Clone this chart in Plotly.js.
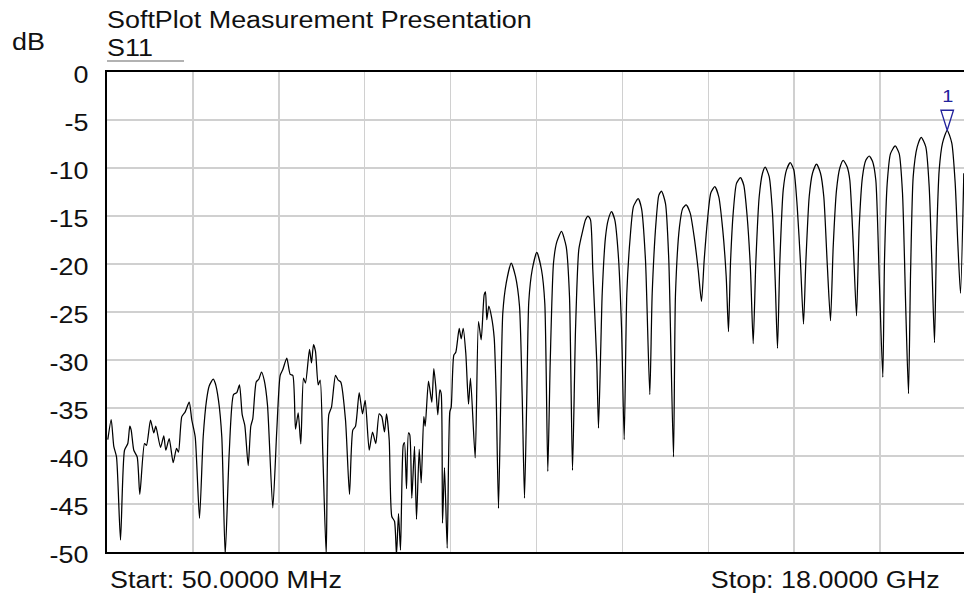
<!DOCTYPE html>
<html>
<head>
<meta charset="utf-8">
<script src="https://cdn.plot.ly/plotly-3.0.1.min.js"></script>
<style>
  html, body { margin: 0; padding: 0; background: #fff; overflow: hidden; }
  #chart { width: 966px; height: 598px; }
</style>
</head>
<body>
<div id="chart"></div>
<script>
// Frequency (GHz) and S11 (dB)
const freqGHz = [
  0.0667,0.1378,0.1921,0.2485,0.3321,0.4157,0.4847,0.5264,0.5557,0.6100,
  0.6811,0.7354,0.8336,0.8754,0.9590,1.0280,1.0697,1.1680,1.2369,1.2787,
  1.3498,1.4333,1.5023,1.5441,1.6130,1.6841,1.7677,1.8220,1.8931,1.9829,
  2.0602,2.1292,2.1856,2.2692,2.3110,2.3799,2.4489,2.5200,2.6035,2.6934,
  2.7623,2.8188,2.8752,2.9295,3.0006,3.0549,3.0967,3.1677,3.2221,3.2785,
  3.3349,3.4039,3.5146,3.5982,3.6693,3.7236,3.8071,3.8782,3.9325,3.9889,
  4.0454,4.0997,4.1561,4.1979,4.2815,4.3233,4.3651,4.4069,4.4633,4.5051,
  4.5594,4.6305,4.6848,4.7412,4.8248,4.8812,4.9356,5.0338,5.1174,5.1863,
  5.2427,5.3201,5.3890,5.4454,5.5290,5.5980,5.6669,5.7380,5.7923,5.8487,
  5.8905,5.9469,6.0013,6.0577,6.0995,6.1413,6.1831,6.2395,6.2667,6.3085,
  6.3503,6.3774,6.4192,6.4756,6.5174,6.5738,6.6156,6.6700,6.6992,6.7682,
  6.8371,6.8789,6.9207,6.9625,7.0043,7.0336,7.0607,7.1025,7.1589,7.2133,
  7.2425,7.2969,7.3386,7.4097,7.4515,7.4933,7.5476,7.6040,7.6458,7.7440,
  7.8130,7.8694,7.9321,7.9593,7.9864,8.0282,8.0846,8.1410,8.1828,8.2309,
  8.2790,8.3208,8.3918,8.4963,8.5861,8.6697,8.7261,8.7742,8.8223,8.8641,
  8.9351,9.0312,9.1294,9.1984,9.2611,9.3112,9.3802,9.4492,9.5474,9.6456,
  9.7145,9.7772,9.8399,9.9089,9.9925,10.0489,10.1011,10.1534,10.2014,10.2850,
  10.3205,10.3686,10.3978,10.4668,10.5232,10.5922,10.6611,10.7322,10.8011,10.8575,
  10.9119,10.9829,11.0519,11.1501,11.2191,11.3026,11.3925,11.4426,11.5262,11.5806,
  11.6370,11.7206,11.7895,11.8877,11.9295,12.0131,12.0820,12.1531,12.2367,12.3203,
  12.4039,12.4728,12.5292,12.5982,12.6672,12.7508,12.8343,12.9179,12.9890,13.0370,
  13.0788,13.1352,13.2042,13.2878,13.3567,13.4278,13.4967,13.5532,13.6075,13.6785,
  13.7475,13.8039,13.8875,13.9565,14.0129,14.0610,14.1090,14.1801,14.2490,14.3264,
  14.4016,14.4726,14.5416,14.6043,14.6523,14.7234,14.7923,14.8759,14.9595,15.0285,
  15.0995,15.1685,15.2249,15.2939,15.3628,15.4339,15.5175,15.5718,15.6428,15.7118,
  15.7682,15.8372,15.9062,15.9772,16.0462,16.1151,16.1862,16.2614,16.2969,16.3533,
  16.4223,16.5205,16.6041,16.6731,16.7420,16.7984,16.8402,16.8966,16.9802,17.0638,
  17.1599,17.2309,17.2853,17.3417,17.3835,17.4399,17.5089,17.6071,17.7032,17.7743,
  17.8286,17.8850,17.9540
];
const s11dB = [
  -38.3,-36.2,-39.0,-40.1,-48.75,-39.4,-38.7,-36.9,-37.3,-39.4,
  -40.1,-44.0,-38.7,-38.9,-36.25,-37.6,-36.9,-39.1,-37.9,-39.4,
  -38.2,-40.7,-39.2,-39.6,-35.9,-35.4,-34.4,-36.25,-38.0,-46.5,
  -38.0,-34.2,-32.7,-32.0,-32.4,-34.2,-38.0,-50.3,-39.7,-33.6,
  -33.4,-32.6,-35.7,-36.8,-41.0,-36.9,-36.1,-32.3,-32.0,-31.25,
  -32.1,-34.7,-45.4,-37.3,-31.6,-31.0,-29.8,-31.5,-31.6,-37.2,
  -35.5,-38.75,-31.9,-32.4,-28.9,-30.3,-28.4,-29.1,-32.6,-32.1,
  -39.7,-50.3,-35.7,-34.9,-31.6,-32.1,-32.3,-36.25,-44.0,-37.3,
  -36.9,-33.4,-35.6,-34.2,-39.4,-37.5,-38.7,-35.6,-35.9,-37.5,
  -35.6,-38.3,-46.3,-46.8,-50.3,-46.0,-49.8,-38.9,-38.6,-43.4,
  -37.6,-37.8,-44.4,-39.0,-46.6,-39.3,-42.8,-35.9,-36.9,-32.2,
  -34.4,-30.9,-32.8,-35.7,-33.1,-33.5,-47.0,-41.2,-49.6,-35.4,
  -34.9,-29.5,-29.2,-26.7,-27.8,-26.7,-29.3,-34.6,-31.9,-40.2,
  -26.0,-27.9,-23.2,-22.9,-25.8,-24.4,-25.5,-27.7,-33.8,-45.45,
  -33.8,-25.1,-22.0,-19.9,-21.3,-24.4,-33.8,-44.4,-33.8,-23.9,
  -20.6,-18.8,-20.6,-24.1,-41.6,-30.3,-19.9,-17.7,-16.6,-18.2,
  -23.4,-41.5,-26.9,-18.5,-16.5,-15.4,-15.0,-15.4,-20.6,-30.3,
  -37.1,-28.6,-23.1,-17.2,-15.4,-14.55,-15.4,-18.9,-26.5,-38.3,
  -23.1,-17.2,-14.0,-13.2,-14.2,-19.6,-33.6,-23.1,-15.4,-12.85,
  -12.4,-13.7,-19.6,-40.1,-23.1,-16.1,-14.2,-13.85,-14.7,-17.2,
  -20.6,-23.9,-19.6,-15.4,-12.6,-11.95,-13.0,-16.5,-21.3,-27.05,
  -19.9,-14.7,-11.6,-11.0,-11.8,-15.1,-20.6,-28.3,-19.9,-13.0,
  -10.55,-9.9,-10.9,-14.7,-21.7,-28.8,-19.9,-12.3,-10.2,-9.45,
  -10.2,-14.0,-19.9,-26.25,-19.9,-13.0,-10.55,-9.6,-10.55,-13.0,
  -19.9,-25.9,-18.2,-12.3,-10.0,-9.2,-9.9,-11.25,-17.8,-25.4,
  -16.1,-10.9,-9.2,-8.75,-9.3,-11.25,-21.3,-31.8,-19.6,-11.6,
  -8.5,-7.7,-8.5,-12.6,-24.8,-33.5,-21.3,-10.9,-7.8,-6.8,
  -7.8,-11.95,-19.6,-28.2,-17.8,-10.2,-7.4,-6.07,-7.4,-11.6,
  -17.8,-23.05,-10.55
];
// Marker 1
const markerFreqGHz = [17.6071];
const markerdB = [-6.07];
const markerLabels = ['1'];
// Axis
const yTickVals = [0,-5,-10,-15,-20,-25,-30,-35,-40,-45,-50];
const yTickText = ['0','-5','-10','-15','-20','-25','-30','-35','-40','-45','-50'];
const startLabel = 'Start: 50.0000 MHz';
const stopLabel = 'Stop: 18.0000 GHz';
const startGHz = 0.05, stopGHz = 18.0;

const FONT = 'Liberation Sans, Arial, Helvetica, sans-serif';
const FS = 23;
const BLUE = '#22229c';

const traces = [{
  x: freqGHz, y: s11dB, type: 'scatter', mode: 'lines',
  line: { color: '#000', width: 1.25, shape: 'spline', smoothing: 0.6 },
  hoverinfo: 'skip'
}];

const layout = {
  width: 966, height: 598,
  margin: { l: 107, r: 0, t: 72, b: 46 },
  paper_bgcolor: '#fff', plot_bgcolor: '#fff',
  showlegend: false,
  font: { family: FONT, size: FS, color: '#111' },
  xaxis: {
    range: [startGHz, stopGHz], showticklabels: false, ticks: '',
    tick0: startGHz, dtick: (stopGHz - startGHz) / 10,
    showgrid: true, gridcolor: '#d0d0d0', gridwidth: 1.5,
    zeroline: false, showline: true, linecolor: '#000', linewidth: 2, mirror: true
  },
  yaxis: {
    range: [-50, 0], tickmode: 'array', tickvals: yTickVals, ticktext: yTickText,
    ticks: '', ticklabelstandoff: 12, ticklabelshift: 3,
    tickfont: { family: FONT, size: FS, color: '#111' },
    showgrid: true, gridcolor: '#d0d0d0', gridwidth: 1.5,
    zeroline: false, showline: true, linecolor: '#000', linewidth: 2, mirror: true
  },
  shapes: [
    { type: 'line', xref: 'paper', yref: 'paper', x0: 0, x1: 77/859, y0: 1 + 11/480, y1: 1 + 11/480,
      line: { color: '#999', width: 1.5 } },
    { type: 'path', xref: 'x', yref: 'y', xsizemode: 'pixel', ysizemode: 'pixel',
      xanchor: markerFreqGHz[0], yanchor: markerdB[0],
      path: 'M-6.3,20 L6.3,20 L0,0 Z', line: { color: BLUE, width: 1.3 }, fillcolor: 'rgba(0,0,0,0)' }
  ],
  annotations: [
    { xref: 'paper', yref: 'paper', x: 0, y: 1, xanchor: 'left', yanchor: 'middle', align: 'left', xshift: -2, yshift: 52,
      text: 'SoftPlot Measurement Presentation', showarrow: false, font: { family: FONT, size: FS, color: '#111' } },
    { xref: 'paper', yref: 'paper', x: 0, y: 1, xanchor: 'left', yanchor: 'middle', align: 'left', xshift: -2, yshift: 24,
      text: 'S11', showarrow: false, font: { family: FONT, size: FS, color: '#111' } },
    { xref: 'paper', yref: 'paper', x: 0, y: 1, xanchor: 'left', yanchor: 'middle', align: 'left', xshift: -97, yshift: 30,
      text: 'dB', showarrow: false, font: { family: FONT, size: FS, color: '#111' } },
    { xref: 'paper', yref: 'paper', x: 0, y: 0, xanchor: 'left', yanchor: 'middle', align: 'left', xshift: 1, yshift: -28,
      text: startLabel, showarrow: false, font: { family: FONT, size: FS, color: '#111' } },
    { xref: 'paper', yref: 'paper', x: 1, y: 0, xanchor: 'right', yanchor: 'middle', align: 'right', xshift: -24, yshift: -28,
      text: stopLabel, showarrow: false, font: { family: FONT, size: FS, color: '#111' } },
    { xref: 'x', yref: 'y', x: markerFreqGHz[0], y: markerdB[0], xanchor: 'center', yanchor: 'middle', yshift: 34,
      text: markerLabels[0], showarrow: false, font: { family: FONT, size: 17, color: BLUE } }
  ]
};

Plotly.newPlot('chart', traces, layout, { displayModeBar: false, staticPlot: true }).then(function () {
  // the reference glyphs are horizontally wider than Arial; widen text slightly
  document.querySelectorAll('#chart svg text').forEach(function (t) {
    var w = t.getComputedTextLength();
    if (w > 0) {
      t.setAttribute('textLength', (w * 1.17).toFixed(2));
      t.setAttribute('lengthAdjust', 'spacingAndGlyphs');
    }
  });
});
</script>
</body>
</html>
